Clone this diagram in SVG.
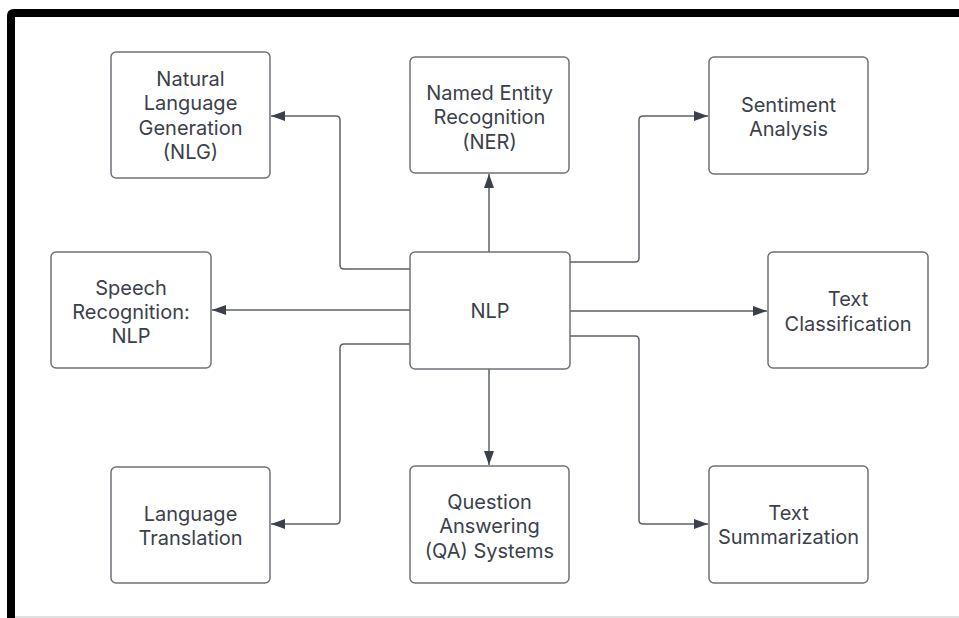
<svg xmlns="http://www.w3.org/2000/svg" width="959" height="618" viewBox="0 0 959 618">
<defs>
<marker id="ah" viewBox="0 0 14 10" refX="14" refY="5" markerWidth="14" markerHeight="10" markerUnits="userSpaceOnUse" orient="auto">
<path d="M0,0 L14,5 L0,10 Z" fill="#3a414a"/>
</marker>
<style>
.box{fill:#ffffff;stroke:#6e7177;stroke-width:1.5}
.t{font-family:Inter,"Liberation Sans",sans-serif;font-size:20px;fill:#3a414a;text-anchor:middle}
.c{fill:none;stroke:#5c6068;stroke-width:1.5;marker-end:url(#ah)}
</style>
</defs>
<rect x="0" y="0" width="959" height="618" fill="#ffffff"/>
<path d="M11,618 V16 Q11,13 14,13 H959" fill="none" stroke="#000" stroke-width="8"/>
<rect x="15" y="616" width="944" height="2" fill="#e0e0e0"/>
<g id="connectors">
<path class="c" d="M410,269 H344 Q340,269 340,265 V120 Q340,116 336,116 H271"/>
<path class="c" d="M410,310 H212"/>
<path class="c" d="M410,344 H344 Q340,344 340,348 V520 Q340,524 336,524 H271"/>
<path class="c" d="M489,252 V174"/>
<path class="c" d="M489,369 V465"/>
<path class="c" d="M570,262 H635 Q639,262 639,258 V120 Q639,116 643,116 H708"/>
<path class="c" d="M570,311 H767"/>
<path class="c" d="M570,336 H635 Q639,336 639,340 V520 Q639,524 643,524 H708"/>
</g>
<g id="nlg"><rect class="box" x="111" y="52" width="159" height="126" rx="5"/>
<text class="t" x="190.5" y="86">Natural</text><text class="t" x="190.5" y="110">Language</text><text class="t" x="190.5" y="135">Generation</text><text class="t" x="190.5" y="159">(NLG)</text></g>
<g id="ner"><rect class="box" x="410" y="57" width="159" height="116" rx="5"/>
<text class="t" x="489.5" y="100">Named Entity</text><text class="t" x="489.5" y="124">Recognition</text><text class="t" x="489.5" y="149">(NER)</text></g>
<g id="sentiment"><rect class="box" x="709" y="57" width="159" height="117" rx="5"/>
<text class="t" x="788.5" y="112">Sentiment</text><text class="t" x="788.5" y="136">Analysis</text></g>
<g id="speech"><rect class="box" x="51" y="252" width="160" height="116" rx="5"/>
<text class="t" x="131" y="295">Speech</text><text class="t" x="131" y="319">Recognition:</text><text class="t" x="131" y="343">NLP</text></g>
<g id="nlp"><rect class="box" x="410" y="252" width="160" height="117" rx="5"/>
<text class="t" x="490" y="318">NLP</text></g>
<g id="classification"><rect class="box" x="768" y="252" width="160" height="116" rx="5"/>
<text class="t" x="848" y="306">Text</text><text class="t" x="848" y="331">Classification</text></g>
<g id="translation"><rect class="box" x="111" y="467" width="159" height="116" rx="5"/>
<text class="t" x="190.5" y="521">Language</text><text class="t" x="190.5" y="545">Translation</text></g>
<g id="qa"><rect class="box" x="410" y="466" width="159" height="117" rx="5"/>
<text class="t" x="489.5" y="509">Question</text><text class="t" x="489.5" y="533">Answering</text><text class="t" x="489.5" y="558">(QA) Systems</text></g>
<g id="summarization"><rect class="box" x="709" y="466" width="159" height="117" rx="5"/>
<text class="t" x="788.5" y="520">Text</text><text class="t" x="788.5" y="544">Summarization</text></g>
</svg>
